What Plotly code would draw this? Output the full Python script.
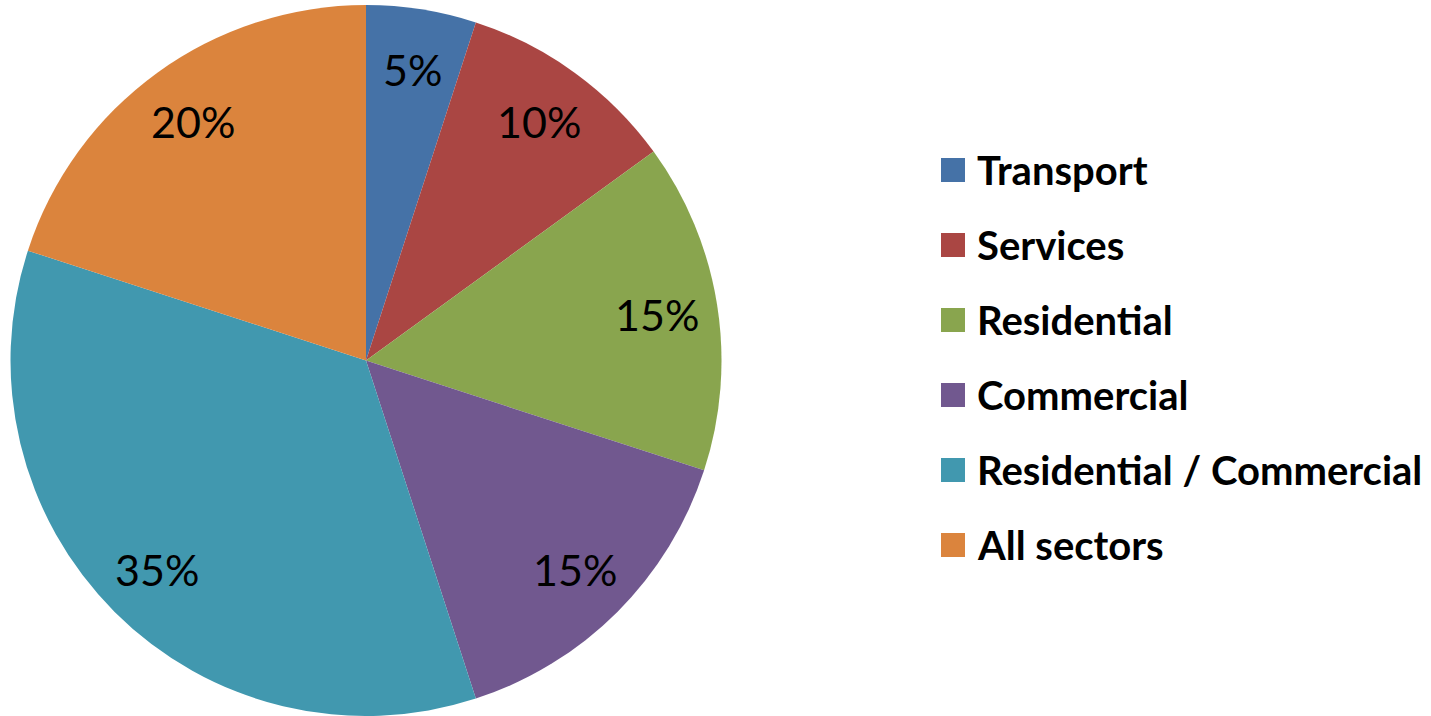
import math
import plotly.graph_objects as go

categories = ["Transport", "Services", "Residential", "Commercial",
              "Residential / Commercial", "All sectors"]
shares = [5, 10, 15, 15, 35, 20]
colors = ["#4572A7", "#AA4643", "#89A54E", "#71588F", "#4198AF", "#DB843D"]

W, H = 1431, 716
MT = 5                      # top margin (px)
PH = H - MT                 # plot-area height (px)


def px_x(x):
    return x / W


def px_y(y):
    return 1 - (y - MT) / PH


dom_x = [10.5 / W, 721.5 / W]
cx = (dom_x[0] + dom_x[1]) / 2 * W
cy = MT + PH / 2
R = min((dom_x[1] - dom_x[0]) * W, PH) / 2

fig = go.Figure()
fig.add_trace(go.Pie(
    labels=categories,
    values=shares,
    sort=False,
    direction="clockwise",
    rotation=0,
    marker=dict(colors=colors, line=dict(width=0)),
    textinfo="none",
    domain=dict(x=dom_x, y=[0, 1]),
    showlegend=False,
    hoverinfo="label+percent",
))

# percentage labels, placed at 83% of the radius at each slice's mid-angle
total = sum(shares)
cum = 0
for v in shares:
    theta = math.radians((cum + v / 2) / total * 360)
    cum += v
    lx = cx + 0.83 * R * math.sin(theta)
    ly = cy - 0.83 * R * math.cos(theta)
    fig.add_annotation(x=px_x(lx), y=px_y(ly), xref="paper", yref="paper",
                       text=f"{round(v / total * 100)}%", showarrow=False,
                       xanchor="center", yanchor="middle",
                       font=dict(family="Lato", size=43, color="black"))

# legend drawn as shapes + annotations from the category list
row0 = 170
gap = 75
for i, (cat, col) in enumerate(zip(categories, colors)):
    yc = row0 + i * gap
    fig.add_shape(type="rect", xref="paper", yref="paper",
                  x0=px_x(941), x1=px_x(965),
                  y0=px_y(yc + 12), y1=px_y(yc - 12),
                  fillcolor=col, line=dict(width=0))
    fig.add_annotation(x=px_x(975), y=px_y(yc), xref="paper", yref="paper",
                       text="<b>" + cat + "</b>", showarrow=False,
                       xanchor="left", yanchor="middle",
                       font=dict(family="Lato", size=40, color="black"))

fig.update_layout(
    width=W, height=H,
    margin=dict(l=0, r=0, t=MT, b=0),
    paper_bgcolor="white",
    plot_bgcolor="white",
)

fig.write_html("out.html",
               config={"displayModeBar": False},
               post_script="document.body.style.margin='0px';")
